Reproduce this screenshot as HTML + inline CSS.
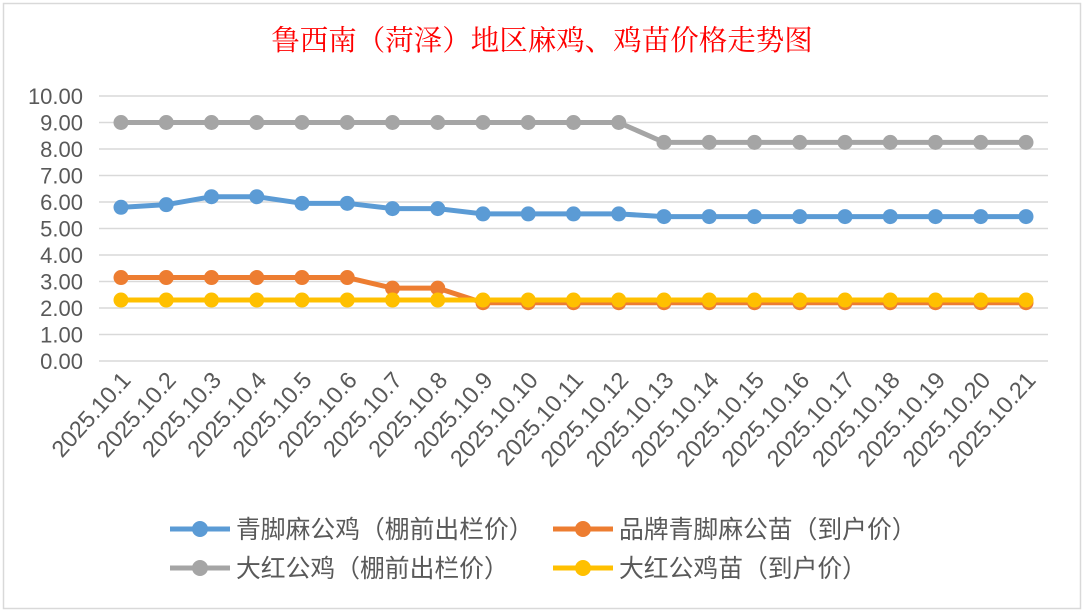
<!DOCTYPE html>
<html><head><meta charset="utf-8"><style>
html,body{margin:0;padding:0;background:#fff;width:1085px;height:614px;overflow:hidden}
svg{display:block}
</style></head><body>
<svg id="s" width="1085" height="614" xmlns="http://www.w3.org/2000/svg">
<rect x="0" y="0" width="1085" height="614" fill="#fff"/>
<rect x="3.5" y="3.5" width="1077" height="605" fill="#fff" stroke="#d9d9d9" stroke-width="1.5"/>
<text x="542" y="50" text-anchor="middle" fill="#ff0000" font-family="'Liberation Serif','Noto Serif CJK SC',serif" font-size="28.5">鲁西南（菏泽）地区麻鸡、鸡苗价格走势图</text>
<g id="grid"></g>
<g id="yl" font-family="'Liberation Sans',sans-serif" font-size="22" fill="#595959" text-anchor="end"></g>
<g id="xl" font-family="'Liberation Sans',sans-serif" font-size="23.5" fill="#595959" text-anchor="end"></g>
<g id="ser"></g>
<g font-family="'Liberation Sans','Noto Sans CJK SC',sans-serif" font-size="24.8" fill="#595959">
<line x1="170" y1="529" x2="230" y2="529" stroke="#5b9bd5" stroke-width="5"/><circle cx="200" cy="529" r="8" fill="#5b9bd5"/>
<text x="236" y="538">青脚麻公鸡（棚前出栏价）</text>
<line x1="553" y1="529" x2="613" y2="529" stroke="#ed7d31" stroke-width="5"/><circle cx="583" cy="529" r="8" fill="#ed7d31"/>
<text x="619" y="538">品牌青脚麻公苗（到户价）</text>
<line x1="170" y1="568" x2="230" y2="568" stroke="#a5a5a5" stroke-width="5"/><circle cx="200" cy="568" r="8" fill="#a5a5a5"/>
<text x="236" y="577">大红公鸡（棚前出栏价）</text>
<line x1="553" y1="568" x2="613" y2="568" stroke="#ffc000" stroke-width="5"/><circle cx="583" cy="568" r="8" fill="#ffc000"/>
<text x="619" y="577">大红公鸡苗（到户价）</text>
</g>
</svg>
<script>
var NS="http://www.w3.org/2000/svg";
function el(p,t,a,txt){var e=document.createElementNS(NS,t);for(var k in a)e.setAttribute(k,a[k]);if(txt)e.textContent=txt;document.getElementById(p).appendChild(e);return e;}
function Y(v){return 361-v*26.5;}
function X(i){return 121+i*45.25;}
for(var v=0;v<=10;v++){el("grid","line",{x1:99,x2:1048,y1:Y(v),y2:Y(v),stroke:"#d9d9d9","stroke-width":1.5});
el("yl","text",{x:83,y:Y(v)+8},v.toFixed(2));}
for(var i=0;i<21;i++){var x=X(i)+11,y=381;el("xl","text",{x:x,y:y,transform:"rotate(-48 "+x+" "+y+")"},"2025.10."+(i+1));}
function rep(v,n){var a=[];for(var i=0;i<n;i++)a.push(v);return a;}
var blue=[5.8,5.9,6.2,6.2,5.95,5.95,5.75,5.75].concat(rep(5.55,4),rep(5.45,9));
var gray=rep(9.0,12).concat(rep(8.25,9));
var orange=rep(3.15,6).concat([2.75,2.75],rep(2.2,13));
var yellow=rep(2.3,21);
function draw(d,c){var p=d.map(function(v,i){return X(i)+","+Y(v)}).join(" ");
el("ser","polyline",{points:p,fill:"none",stroke:c,"stroke-width":5,"stroke-linejoin":"round"});
d.forEach(function(v,i){el("ser","circle",{cx:X(i),cy:Y(v),r:7.5,fill:c});});}
draw(gray,"#a5a5a5");draw(blue,"#5b9bd5");draw(orange,"#ed7d31");draw(yellow,"#ffc000");
</script>
</body></html>
